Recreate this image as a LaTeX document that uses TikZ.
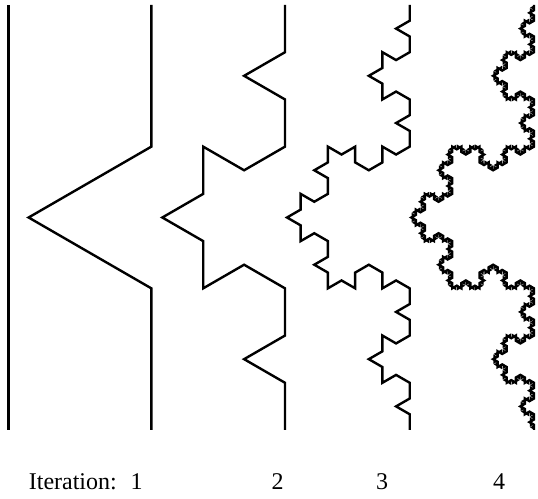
\documentclass[tikz,border=0pt]{standalone}
\usepackage{fontspec}
\setmainfont{Liberation Serif}
\usetikzlibrary{lindenmayersystems}

\pgfdeclarelindenmayersystem{koch}{\rule{F -> F+F--F+F}}

\begin{document}
\begin{tikzpicture}[x=1pt, y=1pt,
    curve/.style={line width=2.4pt, line join=miter},
    lbl/.style={font=\fontsize{24}{28}\selectfont, anchor=base, inner sep=0pt}]
        \useasboundingbox (0,0) rectangle (538,498);

        % Iteration 0: plain segment
        \draw[curve] (8.3,68) -- (8.3,493);

        % Koch curves, drawn bottom to top
        \draw[curve, shift={(151.3,68)}, rotate=90,
              l-system={koch, axiom=F, order=1, step=141.667pt, angle=60}] (0,0) lindenmayer system;
        \draw[curve, shift={(285,68)}, rotate=90,
              l-system={koch, axiom=F, order=2, step=47.222pt, angle=60}] (0,0) lindenmayer system;
        \draw[curve, shift={(409.7,68)}, rotate=90,
              l-system={koch, axiom=F, order=3, step=15.741pt, angle=60}] (0,0) lindenmayer system;
        \draw[curve, shift={(534,68)}, rotate=90,
              l-system={koch, axiom=F, order=5, step=1.749pt, angle=60}] (0,0) lindenmayer system;

        % Labels
        \node[lbl, anchor=base east] (iter) at (117,9) {Iteration:};
        \node[lbl] (n1) at (136.5,9) {1};
        \node[lbl] (n2) at (277.5,9) {2};
        \node[lbl] (n3) at (382,9) {3};
        \node[lbl] (n4) at (499,9) {4};
    \end{tikzpicture}
\end{document}
